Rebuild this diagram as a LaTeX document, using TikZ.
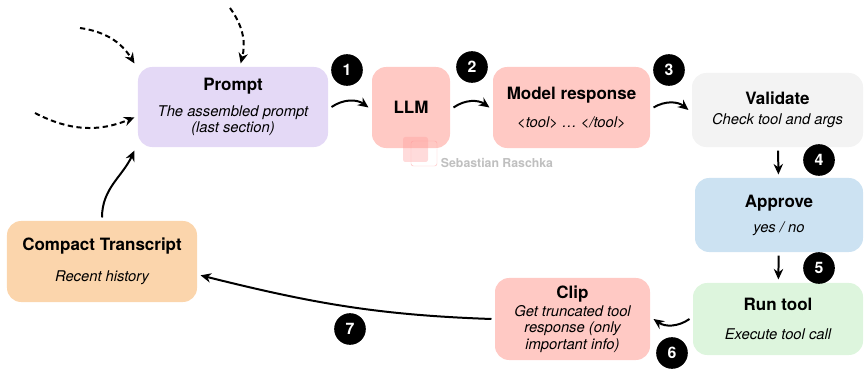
\documentclass[tikz,border=0pt]{standalone}
\usepackage{fontspec}
\setmainfont{TeX Gyre Heros}
\usetikzlibrary{arrows.meta}

\definecolor{promptfill}{HTML}{E4D9F6}
\definecolor{llmfill}{HTML}{FFC9C4}
\definecolor{checkfill}{HTML}{F3F3F3}
\definecolor{approvefill}{HTML}{CCE2F2}
\definecolor{runfill}{HTML}{DDF5DD}
\definecolor{compactfill}{HTML}{FBD5AC}

\newcommand{\boxtitle}[1]{{\fontsize{14.5}{16}\selectfont\bfseries #1}}
\newcommand{\boxsub}[1]{{\itshape #1}}

\begin{document}
\begin{tikzpicture}[x=0.03cm, y=-0.03cm,
  stage/.style={rounded corners=12pt, align=center, inner sep=2pt, outer sep=3pt,
    font=\fontsize{12.6}{14.2}\selectfont},
  badge/.style={circle, fill=black, text=white, minimum size=27pt, inner sep=0pt,
    font=\fontsize{13.5}{13.5}\selectfont\bfseries},
  flow/.style={line width=1.7pt, -{Stealth[length=9pt, width=8pt]}},
  feed/.style={flow, dash pattern=on 4.5pt off 3pt}]
  \useasboundingbox (0,0) rectangle (866,369);

  % the stages of the loop
  \node[stage, fill=promptfill, minimum width=5.7cm, minimum height=2.4cm] (prompt) at (233,107)
    {\boxtitle{Prompt}\\[8pt]\boxsub{The assembled prompt}\\\boxsub{(last section)}};
  \node[stage, fill=llmfill, minimum width=2.34cm, minimum height=2.43cm] (llm) at (411,107.5)
    {\boxtitle{LLM}};
  \node[stage, fill=llmfill, minimum width=4.71cm, minimum height=2.43cm] (model) at (571.5,107.5)
    {\boxtitle{Model response}\\[10pt]\boxsub{<tool> … </tool>}};
  \node[stage, fill=checkfill, minimum width=5.13cm, minimum height=2.22cm] (validate) at (777.5,110)
    {\boxtitle{Validate}\\[3pt]\boxsub{Check tool and args}};
  \node[stage, fill=approvefill, minimum width=5.04cm, minimum height=2.22cm] (approve) at (779,215)
    {\boxtitle{Approve}\\[7pt]\boxsub{yes / no}};
  \node[stage, fill=runfill, minimum width=5.1cm, minimum height=2.16cm] (run) at (778,319)
    {\boxtitle{Run tool}\\[10pt]\boxsub{Execute tool call}};
  \node[stage, fill=llmfill, minimum width=4.65cm, minimum height=2.46cm] (clip) at (572.5,319)
    {\boxtitle{Clip}\\[1pt]\boxsub{Get truncated tool}\\\boxsub{response (only}\\\boxsub{important info)}};
  \node[stage, fill=compactfill, minimum width=5.7cm, minimum height=2.43cm] (compact) at (102,261.5)
    {\boxtitle{Compact Transcript}\\[12pt]\boxsub{Recent history}};

  % watermark
  \fill[red!40, opacity=0.35, rounded corners=2pt] (403,137) rectangle (428,162);
  \draw[red!40, opacity=0.6, rounded corners=2pt] (411,141) rectangle (437,166);
  \node[text=black!25, font=\fontsize{10.5}{10.5}\selectfont\bfseries] (wm) at (497,163) {Sebastian Raschka};

  % step numbers
  \foreach \n/\x/\y in {1/347/70, 2/472/67, 3/669/70, 4/819/160, 5/819/268, 6/672/353, 7/350/329}
    \node[badge] (b\n) at (\x,\y) {\n};

  % main loop
  \draw[flow] (prompt.east) to[bend left=35] (llm.west);
  \draw[flow] (llm.east) to[bend left=35] (model.west);
  \draw[flow] (model.east) to[bend left=35] (validate.west);
  \draw[flow] (validate) -- (approve);
  \draw[flow] (approve) -- (run);
  \draw[flow] (run.west) to[bend left=35] (clip.east);
  \draw[flow] (clip.west) to[out=178, in=-14] (compact.-8);
  \draw[flow] (compact.north) to[out=90, in=-115] (prompt.south west);

  % other inputs into the prompt
  \coordinate (in1) at (35,113);
  \coordinate (in2) at (80,28);
  \coordinate (in3) at (230,8);
  \draw[feed] (in1) to[bend right=25] (prompt.186);
  \draw[feed] (in2) to[bend left=25] (prompt.north west);
  \draw[feed] (in3) to[bend left=25] (prompt.80);
\end{tikzpicture}
\end{document}
